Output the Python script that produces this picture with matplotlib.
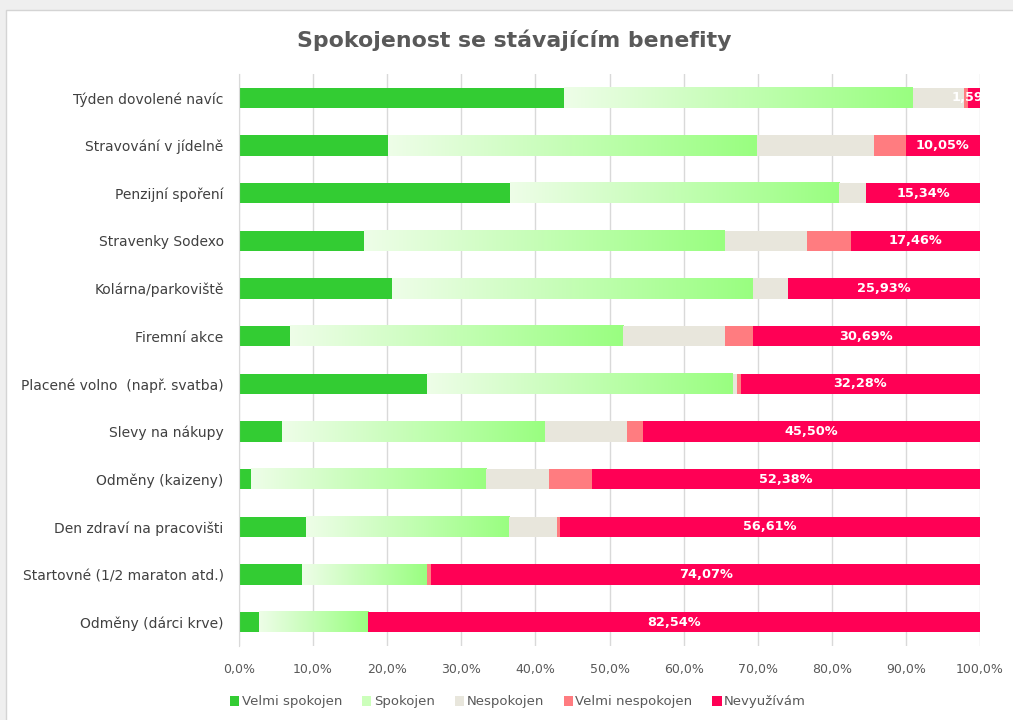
import numpy as np
import matplotlib
matplotlib.use("Agg")
import matplotlib.pyplot as plt
from matplotlib.patches import Rectangle, Patch
from matplotlib.colors import LinearSegmentedColormap
from matplotlib.ticker import FuncFormatter

plt.rcParams['font.family'] = ['DejaVu Sans']

title = "Spokojenost se stávajícím benefity"
categories = [
    "Týden dovolené navíc",
    "Stravování v jídelně",
    "Penzijní spoření",
    "Stravenky Sodexo",
    "Kolárna/parkoviště",
    "Firemní akce",
    "Placené volno  (např. svatba)",
    "Slevy na nákupy",
    "Odměny (kaizeny)",
    "Den zdraví na pracovišti",
    "Startovné (1/2 maraton atd.)",
    "Odměny (dárci krve)",
]
series_names = ["Velmi spokojen", "Spokojen", "Nespokojen", "Velmi nespokojen", "Nevyužívám"]

velmi_spokojen = [43.92, 20.11, 36.51, 16.93, 20.63, 6.88, 25.40, 5.82, 1.59, 8.99, 8.47, 2.65]
spokojen = [47.09, 49.74, 44.44, 48.68, 48.68, 44.97, 41.27, 35.45, 31.75, 27.51, 16.93, 14.81]
nespokojen = [6.88, 15.87, 3.70, 11.11, 4.76, 13.76, 0.53, 11.11, 8.47, 6.35, 0.00, 0.00]
velmi_nespokojen = [0.53, 4.23, 0.00, 5.82, 0.00, 3.70, 0.53, 2.12, 5.82, 0.53, 0.53, 0.00]
nevyuzivam = [1.59, 10.05, 15.34, 17.46, 25.93, 30.69, 32.28, 45.50, 52.38, 56.61, 74.07, 82.54]

x_ticks = [0, 10, 20, 30, 40, 50, 60, 70, 80, 90, 100]

c_vs = "#33CC33"
c_sp_left = "#EEFDE8"
c_sp_right = "#99FF80"
c_ne = "#E8E6DC"
c_vn = "#FF7C80"
c_nv = "#FF0055"

fig = plt.figure(figsize=(10.13, 7.2), dpi=100, facecolor="#EFEFEF")
fig.patches.append(Rectangle((6 / 1013, -0.01), 1.02, 1 - 10 / 720 + 0.01,
                             transform=fig.transFigure, facecolor="white",
                             edgecolor="#D4D4D4", linewidth=1.0, zorder=-10))

ax = fig.add_axes([239 / 1013, 1 - 646 / 720, 741 / 1013, 572 / 720])
ax.set_facecolor("none")

n = len(categories)
y = np.arange(n)
h = 0.42

vs = np.array(velmi_spokojen)
sp = np.array(spokojen)
ne = np.array(nespokojen)
vn = np.array(velmi_nespokojen)
nv = np.array(nevyuzivam)

cmap = LinearSegmentedColormap.from_list("sp", [c_sp_left, c_sp_right])
grad = np.linspace(0, 1, 256).reshape(1, -1)

ax.barh(y, vs, height=h, color=c_vs, zorder=3)
left = vs.copy()
for i in range(n):
    ax.imshow(grad, cmap=cmap, aspect="auto", zorder=3,
              extent=[left[i], left[i] + sp[i], y[i] + h / 2, y[i] - h / 2],
              interpolation="bilinear")
left = left + sp
ax.barh(y, ne, left=left, height=h, color=c_ne, zorder=3)
left = left + ne
ax.barh(y, vn, left=left, height=h, color=c_vn, zorder=3)
left = left + vn
ax.barh(y, nv, left=left, height=h, color=c_nv, zorder=3)

for i in range(n):
    cx = left[i] + nv[i] / 2
    ax.text(cx, y[i], f"{nv[i]:.2f}%".replace(".", ","), ha="center", va="center",
            color="white", fontsize=9.3, fontweight="bold", zorder=5, clip_on=True)

ax.set_xlim(0, 100)
ax.set_ylim(n - 0.5, -0.5)
ax.set_xticks(x_ticks)
ax.xaxis.set_major_formatter(FuncFormatter(lambda v, p: f"{v:.1f}%".replace(".", ",")))
ax.set_yticks(y)
ax.set_yticklabels(categories)
ax.tick_params(axis="x", length=0, pad=12, labelsize=9, labelcolor="#595959")
ax.tick_params(axis="y", length=0, pad=11, labelsize=10, labelcolor="#404040")
ax.grid(axis="x", color="#D9D9D9", linewidth=1.0, zorder=0)
for s in ["top", "right", "bottom"]:
    ax.spines[s].set_visible(False)
ax.spines["left"].set_color("#D9D9D9")
ax.spines["left"].set_zorder(4)

fig.text(514 / 1013, 1 - 40 / 720, title, ha="center", va="center",
         fontsize=15.8, fontweight="bold", color="#595959")

handles = [Patch(facecolor=c_vs), Patch(facecolor="#CCFFBB"), Patch(facecolor=c_ne),
           Patch(facecolor=c_vn), Patch(facecolor=c_nv)]
fig.legend(handles, series_names, loc="center", bbox_to_anchor=(518 / 1013, 1 - 702 / 720),
           ncol=5, frameon=False, fontsize=9.5, labelcolor="#595959",
           handlelength=0.7, handleheight=0.7, handletextpad=0.2, columnspacing=1.5)

fig.savefig("out.png", dpi=100, facecolor=fig.get_facecolor())
